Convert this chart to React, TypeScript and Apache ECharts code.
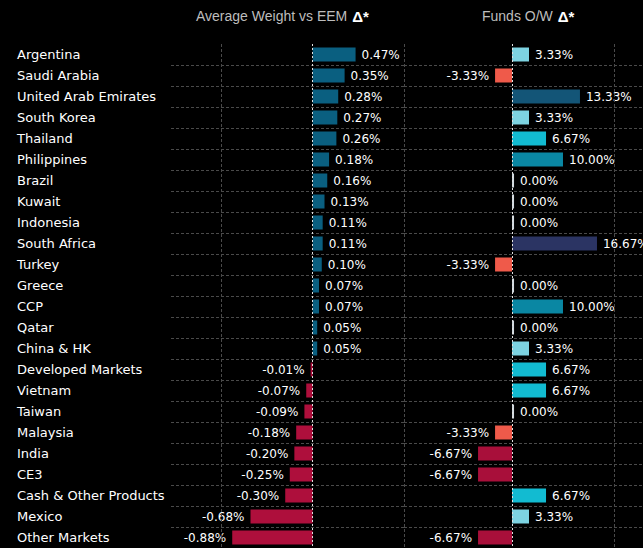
import React, { useEffect, useRef } from "react";
import * as echarts from "echarts";

const categories = [
  "Argentina", "Saudi Arabia", "United Arab Emirates", "South Korea", "Thailand",
  "Philippines", "Brazil", "Kuwait", "Indonesia", "South Africa", "Turkey", "Greece",
  "CCP", "Qatar", "China & HK", "Developed Markets", "Vietnam", "Taiwan", "Malaysia",
  "India", "CE3", "Cash & Other Products", "Mexico", "Other Markets",
];
const avgWeightVsEEM = [
  0.47, 0.35, 0.28, 0.27, 0.26, 0.18, 0.16, 0.13, 0.11, 0.11, 0.10, 0.07,
  0.07, 0.05, 0.05, -0.01, -0.07, -0.09, -0.18, -0.20, -0.25, -0.30, -0.68, -0.88,
];
const fundsOW = [
  3.33, -3.33, 13.33, 3.33, 6.67, 10.0, 0, 0, 0, 16.67, -3.33, 0,
  10.0, 0, 3.33, 6.67, 6.67, 0, -3.33, -6.67, -6.67, 6.67, 3.33, -6.67,
];
const leftGridLines = [-1, 1];
const rightGridLines = [20];

const FONT = "DejaVu Sans";
const GRID_COLOR = "#4a4a4a";

function leftColor(v: number) {
  return v < 0 ? "#ae0f3c" : "#0a5f80";
}
function rightColor(v: number) {
  if (v === 0) return "#d3dbe0";
  if (v <= -6) return "#a80f3a";
  if (v < 0) return "#ef5a4a";
  if (v < 5) return "#7dd3e1";
  if (v < 8) return "#12bbd1";
  if (v < 12) return "#0a87a3";
  if (v < 15) return "#135577";
  return "#2b3463";
}

function buildItems(vals: number[], colorFn: (v: number) => string) {
  return vals.map((v) => ({
    value: v,
    itemStyle: { color: colorFn(v) },
    label: { position: v < 0 ? "left" : "right" },
  }));
}

function markLines(lines: number[]) {
  return {
    silent: true,
    symbol: "none",
    label: { show: false },
    data: [
      { xAxis: 0, lineStyle: { color: "#e0e0e0", type: [2, 2], width: 1 } },
      ...lines.map((x) => ({ xAxis: x, lineStyle: { color: GRID_COLOR, type: [3, 2], width: 1 } })),
    ],
  };
}

export default function App() {
  const ref = useRef<HTMLDivElement>(null);
  useEffect(() => {
    if (!ref.current) return;
    const chart = echarts.init(ref.current, undefined, { renderer: "svg" });
    const labelStyle = {
      show: true,
      color: "#ffffff",
      fontSize: 12,
      fontFamily: FONT,
      distance: 6,
      formatter: (p: any) => `${Number(p.value).toFixed(2)}%`,
    };
    const yCommon = {
      type: "category",
      data: categories,
      inverse: true,
      axisLine: { show: false },
      axisTick: { show: false },
      splitLine: {
        show: true,
        showMinLine: false,
        showMaxLine: false,
        lineStyle: { color: GRID_COLOR, type: [3, 2], width: 1 },
      },
    };
    const titleRich = {
      a: { color: "#bdbdbd", fontSize: 14, fontFamily: "Liberation Sans", fontWeight: "normal" },
      b: { color: "#ffffff", fontSize: 15, fontFamily: "Liberation Sans", fontWeight: "bold" },
    };
    chart.setOption({
      animation: false,
      backgroundColor: "#000000",
      title: [
        {
          text: "{a|Average Weight vs EEM} {b|Δ*}",
          left: 196,
          top: 7,
          padding: 0,
          textStyle: { fontWeight: "normal", rich: titleRich },
        },
        {
          text: "{a|Funds O/W} {b|Δ*}",
          left: 482,
          top: 7,
          padding: 0,
          textStyle: { fontWeight: "normal", rich: titleRich },
        },
      ],
      grid: [
        { left: 171, top: 44, width: 233, height: 504 },
        { left: 404, top: 44, width: 239, height: 504 },
      ],
      xAxis: [
        { type: "value", gridIndex: 0, min: -1.55, max: 1.0, show: false, splitLine: { show: false } },
        { type: "value", gridIndex: 1, min: -21.2, max: 25.7, show: false, splitLine: { show: false } },
      ],
      yAxis: [
        {
          ...yCommon,
          gridIndex: 0,
          axisLabel: {
            show: true,
            align: "left",
            margin: 154,
            color: "#ffffff",
            fontSize: 13,
            fontFamily: FONT,
          },
        },
        {
          ...yCommon,
          gridIndex: 1,
          axisLabel: { show: false },
        },
      ],
      series: [
        {
          name: "Average Weight vs EEM",
          type: "bar",
          xAxisIndex: 0,
          yAxisIndex: 0,
          barWidth: 14,
          barMinHeight: 2,
          data: buildItems(avgWeightVsEEM, leftColor),
          label: labelStyle,
          markLine: markLines(leftGridLines),
        },
        {
          name: "Funds O/W",
          type: "bar",
          xAxisIndex: 1,
          yAxisIndex: 1,
          barWidth: 14,
          barMinHeight: 2,
          data: buildItems(fundsOW, rightColor),
          label: labelStyle,
          markLine: markLines(rightGridLines),
        },
      ],
    });
    return () => chart.dispose();
  }, []);
  return (
    <div
      ref={ref}
      style={{ position: "absolute", left: 0, top: 0, width: 643, height: 548, background: "#000" }}
    />
  );
}
